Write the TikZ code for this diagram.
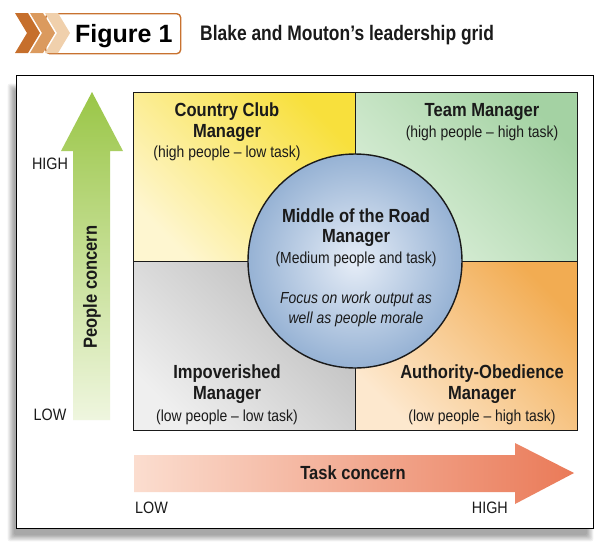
\documentclass[tikz,border=0pt]{standalone}
\usepackage{fontspec}
\setmainfont{Liberation Sans}
\newfontfamily\cond[FakeStretch=0.87]{Liberation Sans}
\newfontfamily\condt[FakeStretch=0.83]{Liberation Sans}
\definecolor{chevA}{HTML}{C66F2C}
\definecolor{chevB}{HTML}{DB9A5E}
\definecolor{chevC}{HTML}{F0D0AC}
\definecolor{boxorange}{HTML}{C8722F}
\definecolor{ink}{HTML}{1A1A1A}
\definecolor{yelB}{HTML}{F8E03C}
\definecolor{yelP}{HTML}{FEF6D0}
\definecolor{grnB}{HTML}{A4D2A3}
\definecolor{grnP}{HTML}{DDF0DB}
\definecolor{gryB}{HTML}{BCBCBC}
\definecolor{gryP}{HTML}{EFEFEF}
\definecolor{orgB}{HTML}{F2AC52}
\definecolor{orgP}{HTML}{FDE8CE}
\definecolor{cirIn}{HTML}{E6EDF7}
\definecolor{cirOut}{HTML}{96B2D4}
\definecolor{arrG}{HTML}{9AC647}
\definecolor{arrGP}{HTML}{EFF6DF}
\definecolor{arrR}{HTML}{EA7A58}
\definecolor{arrRP}{HTML}{FBDDCF}
\begin{document}
\begin{tikzpicture}[x=1pt,y=-1pt,
  quad/.style={draw=ink,line width=1.4pt,rectangle,minimum width=222pt,minimum height=169pt,anchor=north west,inner sep=0pt},
  hd/.style={font=\cond\bfseries\fontsize{19}{21}\selectfont,text=ink,anchor=base,inner sep=0pt},
  sb/.style={font=\cond\fontsize{16}{18}\selectfont,text=ink,anchor=base,inner sep=0pt},
  it/.style={font=\cond\itshape\fontsize{16}{18}\selectfont,text=ink,anchor=base,inner sep=0pt},
  axlab/.style={font=\cond\fontsize{16.5}{18}\selectfont,text=ink,anchor=base,inner sep=0pt},
  axtitle/.style={font=\cond\bfseries\fontsize{19}{21}\selectfont,text=ink,inner sep=0pt}]
\useasboundingbox (0,0) rectangle (610,550);
% header
\node[draw=boxorange,line width=1.4pt,rounded corners=4pt,fill=white,minimum width=135pt,minimum height=40pt,anchor=north west,inner sep=0pt] (figbox) at (45,13) {};
\foreach \i/\c in {0/chevA,1/chevB,2/chevC}{
  \fill[\c] (15+15*\i,13) -- (28+15*\i,13) -- (40+15*\i,33) -- (28+15*\i,53) -- (15+15*\i,53) -- (27+15*\i,33) -- cycle;
}
\node[font=\bfseries\fontsize{25}{28}\selectfont,anchor=base west,inner sep=0pt,text=black] (figlab) at (75,42) {Figure 1};
\node[font=\condt\bfseries\fontsize{21}{24}\selectfont,anchor=base west,inner sep=0pt,text=ink] (title) at (200,40) {Blake and Mouton’s leadership grid};
% frame with soft shadow
\foreach \i in {0,...,7}{
  \fill[black,opacity=0.05,rounded corners=2pt] (14-0.9*\i,90-0.9*\i) rectangle (587+0.9*\i,535+0.9*\i);
}
\node[draw=black,line width=1.3pt,fill=white,minimum width=577pt,minimum height=453pt,anchor=north west,inner sep=0pt] (frame) at (16,75) {};
% quadrants
\node[quad,top color=yelB,bottom color=yelP,shading angle=-45] (q1) at (133,92) {};
\node[quad,top color=grnB,bottom color=grnP,shading angle=-45] (q2) at (355,92) {};
\node[quad,top color=gryB,bottom color=gryP,shading angle=-45] (q3) at (133,261) {};
\node[quad,top color=orgB,bottom color=orgP,shading angle=-45] (q4) at (355,261) {};
% centre circle
\node[circle,draw=ink,line width=1.4pt,minimum size=214pt,inner sep=0pt,inner color=cirIn,outer color=cirOut] (mid) at (355,261) {};
% quadrant texts
\node[hd] (cc1) at (227,116) {Country Club};
\node[hd] (cc2) at (227,137) {Manager};
\node[sb] (cc3) at (227,157) {(high people – low task)};
\node[hd] (tm1) at (482,116) {Team Manager};
\node[sb] (tm2) at (482,137) {(high people – high task)};
\node[hd] (mr1) at (356,222) {Middle of the Road};
\node[hd] (mr2) at (356,242) {Manager};
\node[sb] (mr3) at (356,263) {(Medium people and task)};
\node[it] (mr4) at (356,303) {Focus on work output as};
\node[it] (mr5) at (356,323) {well as people morale};
\node[hd] (im1) at (227,378) {Impoverished};
\node[hd] (im2) at (227,399) {Manager};
\node[sb] (im3) at (227,421) {(low people – low task)};
\node[hd] (ao1) at (482,378) {Authority-Obedience};
\node[hd] (ao2) at (482,399) {Manager};
\node[sb] (ao3) at (482,421) {(low people – high task)};
% vertical arrow
\shade[top color=arrG,bottom color=arrGP] (92,92) -- (123,151) -- (110,151) -- (110,420) -- (73,420) -- (73,151) -- (61,151) -- cycle;
\node[axtitle,rotate=90] (pc) at (92,287) {People concern};
\node[axlab] (vhigh) at (50,169) {HIGH};
\node[axlab] (vlow) at (50,420) {LOW};
% horizontal arrow
\shade[left color=arrRP,right color=arrR] (134,455) -- (515,455) -- (515,443) -- (574,473) -- (515,504) -- (515,492) -- (134,492) -- cycle;
\node[axtitle] (tc) at (353,473) {Task concern};
\node[axlab,anchor=base west] (hlow) at (135,513) {LOW};
\node[axlab,anchor=base east] (hhigh) at (508,513) {HIGH};
\end{tikzpicture}
\end{document}
